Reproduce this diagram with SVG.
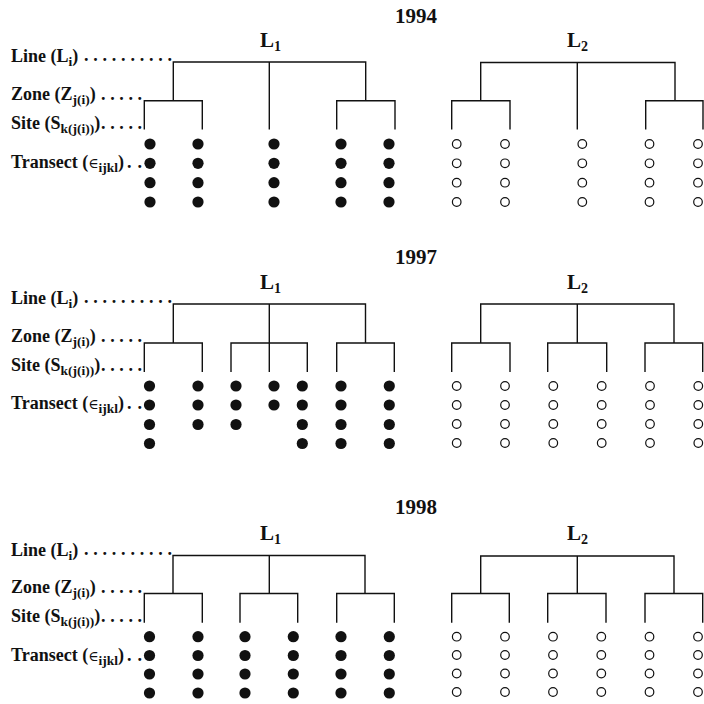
<svg xmlns="http://www.w3.org/2000/svg" width="704" height="704" viewBox="0 0 704 704">
<style>
text{font-family:"Liberation Serif","Times New Roman",serif;font-weight:bold;fill:#111}
.lab{font-size:18px}
.sub{font-size:13.5px}
.eps{font-family:"DejaVu Serif",serif;font-weight:normal;font-size:14px}
.ttl{font-size:21px}
.lv{font-size:21px}
.lvs{font-size:14px}
.tree{fill:none;stroke:#111;stroke-width:1.4}
.f{fill:#111}
.o{fill:#fff;stroke:#111;stroke-width:1.2}
</style>
<defs>
<circle id="fd" r="5.6" class="f"/>
<circle id="od" r="4.3" class="o"/>
</defs>

<!-- ===== 1994 ===== -->
<g id="panel-1994">
<text class="ttl" x="416" y="23" text-anchor="middle">1994</text>
<g id="labels-1994">
<text class="lab" x="11" y="62">Line (L<tspan class="sub" dy="4">i</tspan><tspan dy="-4">)</tspan></text>
<text class="lab" x="84" y="61" textLength="88" lengthAdjust="spacing">. . . . . . . . . .</text>
<text class="lab" x="11" y="99.5">Zone (Z<tspan class="sub" dy="4">j(i)</tspan><tspan dy="-4">)</tspan></text>
<text class="lab" x="101" y="99.5" textLength="41" lengthAdjust="spacing">. . . . .</text>
<text class="lab" x="11" y="128.5">Site (S<tspan class="sub" dy="4">k(j(i))</tspan><tspan dy="-4">)</tspan></text>
<text class="lab" x="101" y="128.5" textLength="41" lengthAdjust="spacing">. . . . .</text>
<text class="lab" x="11" y="168">Transect (<tspan class="eps">∈</tspan><tspan class="sub" dy="4">ijkl</tspan><tspan dy="-4">)</tspan></text>
<text class="lab" x="127" y="168" textLength="15" lengthAdjust="spacing">. .</text>
</g>
<g id="L1-1994">
<text class="lv" x="260" y="46.5">L<tspan class="lvs" dy="4">1</tspan></text>
</g>
<g id="L2-1994">
<text class="lv" x="567" y="46.5">L<tspan class="lvs" dy="4">2</tspan></text>
</g>
<g id="connectors-1994" class="tree">
<path d="M173.3,100.7V62H365.7V100.7M269.3,62V129.5M144.3,129.5V100.7H202.3V129.5M336.7,129.5V100.7H395V129.5"/>
<path d="M480.7,100.7V62.5H675V100.7M577.3,62.5V129.5M451.7,129.5V100.7H510V129.5M645.7,129.5V100.7H703V129.5"/>
</g>
<g id="transects-L1-1994">
<use href="#fd" x="150" y="144"/><use href="#fd" x="150" y="163.3"/><use href="#fd" x="150" y="182.7"/><use href="#fd" x="150" y="202"/>
<use href="#fd" x="198" y="144"/><use href="#fd" x="198" y="163.3"/><use href="#fd" x="198" y="182.7"/><use href="#fd" x="198" y="202"/>
<use href="#fd" x="274" y="144"/><use href="#fd" x="274" y="163.3"/><use href="#fd" x="274" y="182.7"/><use href="#fd" x="274" y="202"/>
<use href="#fd" x="341" y="144"/><use href="#fd" x="341" y="163.3"/><use href="#fd" x="341" y="182.7"/><use href="#fd" x="341" y="202"/>
<use href="#fd" x="389" y="144"/><use href="#fd" x="389" y="163.3"/><use href="#fd" x="389" y="182.7"/><use href="#fd" x="389" y="202"/>
</g>
<g id="transects-L2-1994">
<use href="#od" x="456.7" y="144"/><use href="#od" x="456.7" y="163.3"/><use href="#od" x="456.7" y="182.7"/><use href="#od" x="456.7" y="202"/>
<use href="#od" x="505" y="144"/><use href="#od" x="505" y="163.3"/><use href="#od" x="505" y="182.7"/><use href="#od" x="505" y="202"/>
<use href="#od" x="582.3" y="144"/><use href="#od" x="582.3" y="163.3"/><use href="#od" x="582.3" y="182.7"/><use href="#od" x="582.3" y="202"/>
<use href="#od" x="649.5" y="144"/><use href="#od" x="649.5" y="163.3"/><use href="#od" x="649.5" y="182.7"/><use href="#od" x="649.5" y="202"/>
<use href="#od" x="698" y="144"/><use href="#od" x="698" y="163.3"/><use href="#od" x="698" y="182.7"/><use href="#od" x="698" y="202"/>
</g>
</g>

<!-- ===== 1997 ===== -->
<g id="panel-1997">
<text class="ttl" x="416" y="263.5" text-anchor="middle">1997</text>
<g id="labels-1997">
<text class="lab" x="11" y="304">Line (L<tspan class="sub" dy="4">i</tspan><tspan dy="-4">)</tspan></text>
<text class="lab" x="84" y="303" textLength="88" lengthAdjust="spacing">. . . . . . . . . .</text>
<text class="lab" x="11" y="341.5">Zone (Z<tspan class="sub" dy="4">j(i)</tspan><tspan dy="-4">)</tspan></text>
<text class="lab" x="101" y="341.5" textLength="41" lengthAdjust="spacing">. . . . .</text>
<text class="lab" x="11" y="370.5">Site (S<tspan class="sub" dy="4">k(j(i))</tspan><tspan dy="-4">)</tspan></text>
<text class="lab" x="101" y="370.5" textLength="41" lengthAdjust="spacing">. . . . .</text>
<text class="lab" x="11" y="409">Transect (<tspan class="eps">∈</tspan><tspan class="sub" dy="4">ijkl</tspan><tspan dy="-4">)</tspan></text>
<text class="lab" x="127" y="409" textLength="15" lengthAdjust="spacing">. .</text>
</g>
<g id="L1-1997">
<text class="lv" x="260" y="289.3">L<tspan class="lvs" dy="4">1</tspan></text>
</g>
<g id="L2-1997">
<text class="lv" x="567" y="289.3">L<tspan class="lvs" dy="4">2</tspan></text>
</g>
<g id="connectors-1997" class="tree">
<path d="M173.3,343V304H365.5V343M269.3,304V372M144.3,372V343H202.3V372M231,372V343H307.3V372M336.7,372V343H394.3V372"/>
<path d="M480.7,343V304H674V343M577.3,304V343M451.7,372V343H510V372M547.7,372V343H606.7V372M645,372V343H702.7V372"/>
</g>
<g id="transects-L1-1997">
<use href="#fd" x="149.5" y="386"/><use href="#fd" x="149.5" y="405"/><use href="#fd" x="149.5" y="424.5"/><use href="#fd" x="149.5" y="443.5"/>
<use href="#fd" x="198" y="386"/><use href="#fd" x="198" y="405"/><use href="#fd" x="198" y="424.5"/>
<use href="#fd" x="236" y="386"/><use href="#fd" x="236" y="405"/><use href="#fd" x="236" y="424.5"/>
<use href="#fd" x="274" y="386"/><use href="#fd" x="274" y="405"/>
<use href="#fd" x="302.3" y="386"/><use href="#fd" x="302.3" y="405"/><use href="#fd" x="302.3" y="424.5"/><use href="#fd" x="302.3" y="443.5"/>
<use href="#fd" x="341" y="386"/><use href="#fd" x="341" y="405"/><use href="#fd" x="341" y="424.5"/><use href="#fd" x="341" y="443.5"/>
<use href="#fd" x="389.3" y="386"/><use href="#fd" x="389.3" y="405"/><use href="#fd" x="389.3" y="424.5"/><use href="#fd" x="389.3" y="443.5"/>
</g>
<g id="transects-L2-1997">
<use href="#od" x="456.7" y="386"/><use href="#od" x="456.7" y="405"/><use href="#od" x="456.7" y="424"/><use href="#od" x="456.7" y="443"/>
<use href="#od" x="505" y="386"/><use href="#od" x="505" y="405"/><use href="#od" x="505" y="424"/><use href="#od" x="505" y="443"/>
<use href="#od" x="553.3" y="386"/><use href="#od" x="553.3" y="405"/><use href="#od" x="553.3" y="424"/><use href="#od" x="553.3" y="443"/>
<use href="#od" x="601.7" y="386"/><use href="#od" x="601.7" y="405"/><use href="#od" x="601.7" y="424"/><use href="#od" x="601.7" y="443"/>
<use href="#od" x="650" y="386"/><use href="#od" x="650" y="405"/><use href="#od" x="650" y="424"/><use href="#od" x="650" y="443"/>
<use href="#od" x="698.3" y="386"/><use href="#od" x="698.3" y="405"/><use href="#od" x="698.3" y="424"/><use href="#od" x="698.3" y="443"/>
</g>
</g>

<!-- ===== 1998 ===== -->
<g id="panel-1998">
<text class="ttl" x="416" y="513.5" text-anchor="middle">1998</text>
<g id="labels-1998">
<text class="lab" x="11" y="555.5">Line (L<tspan class="sub" dy="4">i</tspan><tspan dy="-4">)</tspan></text>
<text class="lab" x="84" y="554.5" textLength="88" lengthAdjust="spacing">. . . . . . . . . .</text>
<text class="lab" x="11" y="592.5">Zone (Z<tspan class="sub" dy="4">j(i)</tspan><tspan dy="-4">)</tspan></text>
<text class="lab" x="101" y="592.5" textLength="41" lengthAdjust="spacing">. . . . .</text>
<text class="lab" x="11" y="621.5">Site (S<tspan class="sub" dy="4">k(j(i))</tspan><tspan dy="-4">)</tspan></text>
<text class="lab" x="101" y="621.5" textLength="41" lengthAdjust="spacing">. . . . .</text>
<text class="lab" x="11" y="660.5">Transect (<tspan class="eps">∈</tspan><tspan class="sub" dy="4">ijkl</tspan><tspan dy="-4">)</tspan></text>
<text class="lab" x="127" y="660.5" textLength="15" lengthAdjust="spacing">. .</text>
</g>
<g id="L1-1998">
<text class="lv" x="260" y="540">L<tspan class="lvs" dy="4">1</tspan></text>
</g>
<g id="L2-1998">
<text class="lv" x="567" y="540">L<tspan class="lvs" dy="4">2</tspan></text>
</g>
<g id="connectors-1998" class="tree">
<path d="M173,593.5V555.5H365V593.5M269.3,555.5V593.5M144.3,622.7V593.5H202.3V622.7M240,622.7V593.5H297.7V622.7M336.7,622.7V593.5H394.3V622.7"/>
<path d="M480.7,593.5V556H674V593.5M577.3,556V593.5M451.7,622.7V593.5H509.3V622.7M547.7,622.7V593.5H606V622.7M645,622.7V593.5H702.7V622.7"/>
</g>
<g id="transects-L1-1998">
<use href="#fd" x="149.5" y="636.7"/><use href="#fd" x="149.5" y="655.5"/><use href="#fd" x="149.5" y="674"/><use href="#fd" x="149.5" y="693"/>
<use href="#fd" x="198" y="636.7"/><use href="#fd" x="198" y="655.5"/><use href="#fd" x="198" y="674"/><use href="#fd" x="198" y="693"/>
<use href="#fd" x="245" y="636.7"/><use href="#fd" x="245" y="655.5"/><use href="#fd" x="245" y="674"/><use href="#fd" x="245" y="693"/>
<use href="#fd" x="293.3" y="636.7"/><use href="#fd" x="293.3" y="655.5"/><use href="#fd" x="293.3" y="674"/><use href="#fd" x="293.3" y="693"/>
<use href="#fd" x="341" y="636.7"/><use href="#fd" x="341" y="655.5"/><use href="#fd" x="341" y="674"/><use href="#fd" x="341" y="693"/>
<use href="#fd" x="389.3" y="636.7"/><use href="#fd" x="389.3" y="655.5"/><use href="#fd" x="389.3" y="674"/><use href="#fd" x="389.3" y="693"/>
</g>
<g id="transects-L2-1998">
<use href="#od" x="456.7" y="636.7"/><use href="#od" x="456.7" y="655"/><use href="#od" x="456.7" y="673.5"/><use href="#od" x="456.7" y="692"/>
<use href="#od" x="505" y="636.7"/><use href="#od" x="505" y="655"/><use href="#od" x="505" y="673.5"/><use href="#od" x="505" y="692"/>
<use href="#od" x="553" y="636.7"/><use href="#od" x="553" y="655"/><use href="#od" x="553" y="673.5"/><use href="#od" x="553" y="692"/>
<use href="#od" x="601.3" y="636.7"/><use href="#od" x="601.3" y="655"/><use href="#od" x="601.3" y="673.5"/><use href="#od" x="601.3" y="692"/>
<use href="#od" x="649.5" y="636.7"/><use href="#od" x="649.5" y="655"/><use href="#od" x="649.5" y="673.5"/><use href="#od" x="649.5" y="692"/>
<use href="#od" x="698" y="636.7"/><use href="#od" x="698" y="655"/><use href="#od" x="698" y="673.5"/><use href="#od" x="698" y="692"/>
</g>
</g>
</svg>
